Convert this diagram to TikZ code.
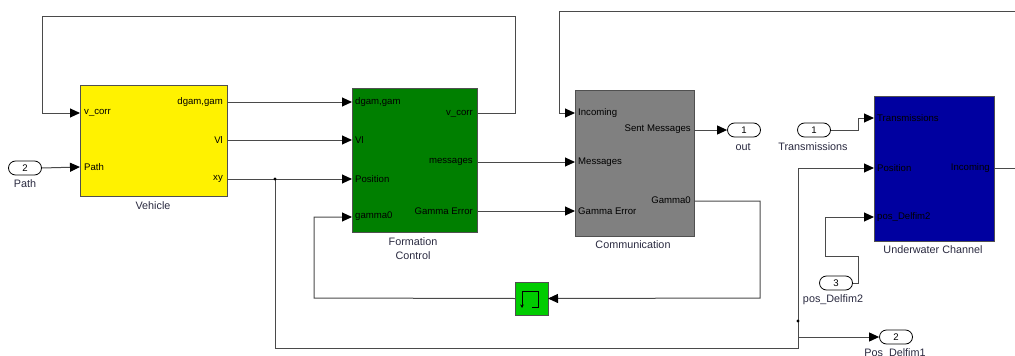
\documentclass[tikz,border=0pt]{standalone}
\usepackage{fontspec}
\setmainfont{Liberation Sans}
\usetikzlibrary{arrows.meta}
\definecolor{wirec}{HTML}{4A4A4A}
\definecolor{bordc}{HTML}{505050}
\definecolor{fcgreen}{HTML}{007F00}
\definecolor{commgray}{HTML}{808080}
\definecolor{ucblue}{HTML}{0000A0}
\definecolor{memgreen}{HTML}{00CC00}
\definecolor{labc}{HTML}{2A2A40}
\tikzset{
  wire/.style={draw=wirec, line width=1pt},
  arr/.style={wire, -{Triangle[length=10pt,width=9pt,color=black]}},
  blk/.style={draw=bordc, line width=0.9pt, anchor=north west, inner sep=0pt, outer sep=0pt},
  pl/.style={font=\fontsize{9.6}{11}\selectfont, inner sep=0pt, text=black},
  blabel/.style={font=\fontsize{10.8}{14}\selectfont, text=labc, align=center, inner sep=0pt},
  oval/.style={draw=black, line width=0.8pt, fill=white, rounded corners=7pt, minimum width=33pt, minimum height=14pt, inner sep=0pt, font=\fontsize{9.6}{11}\selectfont},
  dot/.style={fill=black}
}
\begin{document}
\begin{tikzpicture}[x=1pt,y=-1pt]
\useasboundingbox (0,0) rectangle (1015,356);
\fill[white] (0,0) rectangle (1015,356);

% blocks
\node[blk, fill=yellow, minimum width=147pt, minimum height=111pt] (veh) at (80,85) {};
\node[blk, fill=fcgreen, minimum width=125pt, minimum height=144pt] (fc) at (352,88) {};
\node[blk, fill=commgray, minimum width=119pt, minimum height=146pt] (comm) at (575,90) {};
\node[blk, fill=ucblue, minimum width=120pt, minimum height=145pt] (uc) at (874,96) {};
\node[blk, fill=memgreen, minimum width=33pt, minimum height=33pt] (mem) at (515,282) {};

% memory icon
\draw[black, line width=0.8pt] (532,307) -- (538,307) -- (538,291) -- (522,291) -- (522,303);
\draw[black, line width=0.6pt, -{Stealth[length=3.5pt,width=3.5pt]}] (522,302) -- (522,308);

% block labels
\node[blabel] (vehl) at (153,206) {Vehicle};
\node[blabel] (fcl) at (413,249) {Formation\\Control};
\node[blabel] (comml) at (633,245) {Communication};
\node[blabel] (ucl) at (933,250) {Underwater Channel};

% port coordinates
\coordinate (veh-vcorr) at (80,113);
\coordinate (veh-path) at (80,167);
\coordinate (veh-dgam) at (227,102);
\coordinate (veh-vl) at (227,140);
\coordinate (veh-xy) at (227,179);
\coordinate (fc-dgam) at (352,102);
\coordinate (fc-vl) at (352,140);
\coordinate (fc-pos) at (352,179);
\coordinate (fc-g0) at (352,217);
\coordinate (fc-vcorr) at (477,113);
\coordinate (fc-msg) at (477,162);
\coordinate (fc-gerr) at (477,211);
\coordinate (comm-inc) at (575,113);
\coordinate (comm-msg) at (575,162);
\coordinate (comm-gerr) at (575,211);
\coordinate (comm-sent) at (694,130);
\coordinate (comm-g0) at (694,201);
\coordinate (uc-tr) at (874,118);
\coordinate (uc-pos) at (874,168);
\coordinate (uc-pd2) at (874,217);
\coordinate (uc-inc) at (994,168);

% port labels
\node[pl, anchor=west] (t1) at (84,113) {v\_corr};
\node[pl, anchor=west] (t2) at (84,167) {Path};
\node[pl, anchor=east] (t3) at (223,102) {dgam,gam};
\node[pl, anchor=east] (t4) at (223,140) {Vl};
\node[pl, anchor=east] (t5) at (223,179) {xy};
\node[pl, anchor=west] (t6) at (355,102) {dgam,gam};
\node[pl, anchor=west] (t7) at (355,140) {Vl};
\node[pl, anchor=west] (t8) at (355,179) {Position};
\node[pl, anchor=west] (t9) at (355,216) {gamma0};
\node[pl, anchor=east] (t10) at (473,114) {v\_corr};
\node[pl, anchor=east] (t11) at (473,162) {messages};
\node[pl, anchor=east] (t12) at (473,211) {Gamma Error};
\node[pl, anchor=west] (t13) at (578,113) {Incoming};
\node[pl, anchor=west] (t14) at (578,162) {Messages};
\node[pl, anchor=west] (t15) at (578,211) {Gamma Error};
\node[pl, anchor=east] (t16) at (691,129) {Sent Messages};
\node[pl, anchor=east] (t17) at (691,200) {Gamma0};
\node[pl, anchor=west] (t18) at (877,118) {Transmissions};
\node[pl, anchor=west] (t19) at (877,168) {Position};
\node[pl, anchor=west] (t20) at (877,217) {pos\_Delfim2};
\node[pl, anchor=east] (t21) at (990,168) {Incoming};

% in/out ports
\node[oval] (pathin) at (25,168) {2};
\node[blabel] (pathl) at (25,184) {Path};
\node[oval] (outp) at (744,130) {1};
\node[blabel] (outl) at (743,147) {out};
\node[oval] (trin) at (814,130) {1};
\node[blabel] (trl) at (813,147) {Transmissions};
\node[oval] (pd2in) at (836,283) {3};
\node[blabel] (pd2l) at (833,300) {pos\_Delfim2};
\node[oval] (pd1out) at (896,337) {2};
\node[blabel] (pd1l) at (895,354) {Pos\_Delfim1};

% junctions and free ends
\coordinate (j1) at (275,179);
\coordinate (j2) at (798,321);
\coordinate (j3) at (798,337);
\coordinate (edgeR) at (1016,168);
\coordinate (edgeT) at (1016,11);

% wires
\draw[arr] (pathin.east) -- (veh-path);
\draw[arr] (fc-vcorr) -- (515,113) -- (515,16) -- (42,16) -- (42,113) -- (veh-vcorr);
\draw[arr] (veh-dgam) -- (fc-dgam);
\draw[arr] (veh-vl) -- (fc-vl);
\draw[arr] (veh-xy) -- (fc-pos);
\draw[arr] (j1) -- (275,348) -- (798,348) -- (798,168) -- (uc-pos);
\draw[arr] (j3) -- (pd1out.west);
\draw[arr] (fc-msg) -- (comm-msg);
\draw[arr] (fc-gerr) -- (comm-gerr);
\draw[arr] (comm-sent) -- (outp.west);
\draw[arr] (comm-g0) -- (760,201) -- (760,298) -- (mem.east);
\draw[arr] (mem.west) -- (314,298) -- (314,217) -- (fc-g0);
\draw[wire] (uc-inc) -- (edgeR);
\draw[arr] (edgeT) -- (559,11) -- (559,113) -- (comm-inc);
\draw[arr] (trin.east) -- (858,130) -- (858,118) -- (uc-tr);
\draw[arr] (pd2in.east) -- (858,283) -- (858,256) -- (825,256) -- (825,217) -- (uc-pd2);
\fill[dot] (j1) circle (1.6pt);
\fill[dot] (j2) circle (1.6pt);
\end{tikzpicture}
\end{document}
